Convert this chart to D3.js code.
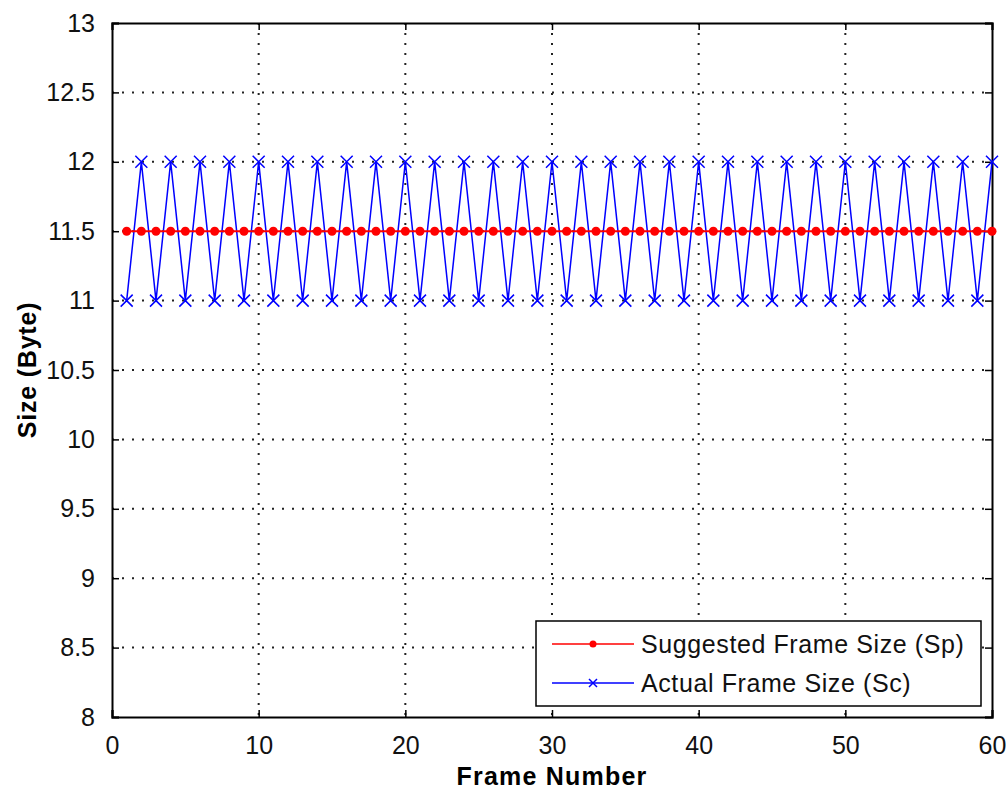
<!DOCTYPE html>
<html>
<head>
<meta charset="utf-8">
<script src="https://cdn.jsdelivr.net/npm/d3@7"></script>
<style>
  html, body { margin: 0; padding: 0; background: #fff; }
  svg { display: block; }
  text { font-family: Arial, "Liberation Sans", sans-serif; }
</style>
</head>
<body>
<svg id="chart" width="1006" height="789"></svg>
<script>
// Frame numbers and sizes (bytes)
const frames = d3.range(1, 61);
const suggestedSize = [
  11.5,11.5,11.5,11.5,11.5,11.5,11.5,11.5,11.5,11.5,
  11.5,11.5,11.5,11.5,11.5,11.5,11.5,11.5,11.5,11.5,
  11.5,11.5,11.5,11.5,11.5,11.5,11.5,11.5,11.5,11.5,
  11.5,11.5,11.5,11.5,11.5,11.5,11.5,11.5,11.5,11.5,
  11.5,11.5,11.5,11.5,11.5,11.5,11.5,11.5,11.5,11.5,
  11.5,11.5,11.5,11.5,11.5,11.5,11.5,11.5,11.5,11.5
];
const actualSize = [
  11,12,11,12,11,12,11,12,11,12,
  11,12,11,12,11,12,11,12,11,12,
  11,12,11,12,11,12,11,12,11,12,
  11,12,11,12,11,12,11,12,11,12,
  11,12,11,12,11,12,11,12,11,12,
  11,12,11,12,11,12,11,12,11,12
];
const xTicks = [0, 10, 20, 30, 40, 50, 60];
const yTicks = [8, 8.5, 9, 9.5, 10, 10.5, 11, 11.5, 12, 12.5, 13];
const seriesNames = ["Suggested Frame Size (Sp)", "Actual Frame Size (Sc)"];

const svg = d3.select("#chart");
const L = 112, R = 992, T = 23, B = 717;

const x = d3.scaleLinear().domain([0, 60]).range([L, R]);
const y = d3.scaleLinear().domain([8, 13]).range([B, T]);

const fontSize = 25;

// Dotted grid
const grid = svg.append("g");
grid.selectAll(".gx").data(xTicks.slice(1, -1)).join("line")
  .attr("x1", d => x(d)).attr("x2", d => x(d))
  .attr("y1", T).attr("y2", B)
  .attr("stroke", "#222").attr("stroke-width", 2)
  .attr("stroke-dasharray", "2,8");
grid.selectAll(".gy").data(yTicks.slice(1, -1)).join("line")
  .attr("x1", L).attr("x2", R)
  .attr("y1", d => y(d)).attr("y2", d => y(d))
  .attr("stroke", "#222").attr("stroke-width", 2)
  .attr("stroke-dasharray", "2,8");

// Axes (ticks pointing inward, mirrored on top/right)
const tickLen = 7;
const axB = svg.append("g").attr("transform", `translate(0,${B})`)
  .call(d3.axisBottom(x).tickValues(xTicks).tickSize(-tickLen).tickPadding(tickLen + 12).tickFormat(d3.format("d")));
const axT = svg.append("g").attr("transform", `translate(0,${T})`)
  .call(d3.axisTop(x).tickValues(xTicks).tickSize(-tickLen).tickFormat(""));
const axL = svg.append("g").attr("transform", `translate(${L},0)`)
  .call(d3.axisLeft(y).tickValues(yTicks).tickSize(-tickLen).tickPadding(tickLen + 10).tickFormat(d => d));
const axR = svg.append("g").attr("transform", `translate(${R},0)`)
  .call(d3.axisRight(y).tickValues(yTicks).tickSize(-tickLen).tickFormat(""));
[axB, axT, axL, axR].forEach(a => {
  a.select(".domain").attr("stroke", "#000").attr("stroke-width", 2);
  a.selectAll(".tick line").attr("stroke", "#000").attr("stroke-width", 1.5);
  a.selectAll("text").attr("font-size", fontSize).attr("fill", "#111")
    .attr("font-family", "Arial, 'Liberation Sans', sans-serif");
});
axB.selectAll("text").attr("dy", "0.71em");

// Axis labels
svg.append("text").attr("x", (L + R) / 2).attr("y", 785)
  .attr("text-anchor", "middle").attr("font-size", fontSize).attr("font-weight", "bold")
  .attr("letter-spacing", 1.2)
  .text("Frame Number");
svg.append("text").attr("transform", `translate(36,${(T + B) / 2}) rotate(-90)`)
  .attr("text-anchor", "middle").attr("font-size", fontSize).attr("font-weight", "bold")
  .attr("letter-spacing", 0.8)
  .text("Size (Byte)");

// Series
const line = d3.line().x(d => x(d[0])).y(d => y(d[1]));
const redPts = frames.map((f, i) => [f, suggestedSize[i]]);
const bluePts = frames.map((f, i) => [f, actualSize[i]]);

const xMark = (g, cx, cy, s, color) => {
  g.append("path")
    .attr("d", `M${cx - s},${cy - s}L${cx + s},${cy + s}M${cx - s},${cy + s}L${cx + s},${cy - s}`)
    .attr("stroke", color).attr("stroke-width", 1.5).attr("fill", "none");
};

const plot = svg.append("g");
plot.append("path").datum(bluePts).attr("d", line)
  .attr("fill", "none").attr("stroke", "#0000ff").attr("stroke-width", 1.5);
plot.append("path").datum(redPts).attr("d", line)
  .attr("fill", "none").attr("stroke", "#ff0000").attr("stroke-width", 2);
plot.selectAll(".rdot").data(redPts).join("circle")
  .attr("cx", d => x(d[0])).attr("cy", d => y(d[1])).attr("r", 4.5)
  .attr("fill", "#ff0000");
const bm = plot.append("g");
bluePts.forEach(d => xMark(bm, x(d[0]), y(d[1]), 6, "#0000ff"));

// Legend
const lg = svg.append("g");
lg.append("rect").attr("x", 536).attr("y", 621).attr("width", 445).attr("height", 85)
  .attr("fill", "#fff").attr("stroke", "#000").attr("stroke-width", 1.5);
const legendRows = [
  { name: seriesNames[0], color: "#ff0000", yy: 644, mark: "dot" },
  { name: seriesNames[1], color: "#0000ff", yy: 683, mark: "x" }
];
legendRows.forEach(r => {
  lg.append("line").attr("x1", 552).attr("x2", 634).attr("y1", r.yy).attr("y2", r.yy)
    .attr("stroke", r.color).attr("stroke-width", 1.5);
  if (r.mark === "dot") {
    lg.append("circle").attr("cx", 593).attr("cy", r.yy).attr("r", 3.5).attr("fill", r.color);
  } else {
    xMark(lg, 593, r.yy, 4, r.color);
  }
  lg.append("text").attr("x", 641).attr("y", r.yy).attr("dy", "0.36em")
    .attr("font-size", fontSize).attr("fill", "#111").attr("letter-spacing", 0.6)
    .text(r.name);
});
</script>
</body>
</html>
